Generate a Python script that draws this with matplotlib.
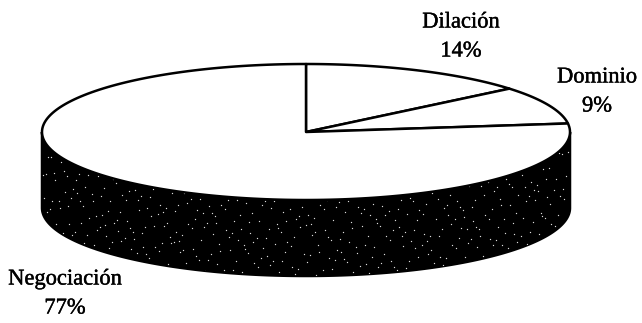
import numpy as np
import matplotlib
matplotlib.use("Agg")
from matplotlib import pyplot as plt
from matplotlib import patheffects
from matplotlib.patches import Polygon

labels = ["Dilación", "Dominio", "Negociación"]
values = [14, 9, 77]

# Pie geometry in pixels
cx, cy = 306, 132
rx, ry = 264, 68
depth = 76

plt.rcParams["font.family"] = ["Liberation Serif", "DejaVu Serif"]

fig = plt.figure(figsize=(6.42, 3.23), dpi=100)
ax = fig.add_axes([0, 0, 1, 1])
ax.set_xlim(0, 642)
ax.set_ylim(323, 0)
ax.axis("off")


def rim(a):
    # a is measured clockwise from the top of the pie, in degrees
    a = np.radians(a)
    return cx + rx * np.sin(a), cy - ry * np.cos(a)


def halton(n, base):
    # radical inverse of n, gives an even but irregular spread in 0..1
    out, f = 0.0, 1.0 / base
    while n > 0:
        out += f * (n % base)
        n //= base
        f /= base
    return out


# Side wall: front half of the rim pushed down by the depth
front = np.linspace(90, 270, 200)
x, y = rim(front)
wall_pts = np.concatenate([np.column_stack([x, y]), np.column_stack([x[::-1], y[::-1] + depth])])
wall = Polygon(wall_pts, closed=True, facecolor="black", edgecolor="black", lw=1.8, zorder=1)
ax.add_patch(wall)

# Fine light grain on the wall
n = np.arange(1, 381)
grain_x = cx - rx + 2 * rx * np.array([halton(i, 2) for i in n])
grain_top = cy + ry * np.sqrt(np.clip(1 - ((grain_x - cx) / rx) ** 2, 0, 1))
grain_y = grain_top + depth * np.array([halton(i, 3) for i in n])
grain = ax.scatter(grain_x, grain_y, s=0.9, c="#dddddd", linewidths=0, zorder=2)
grain.set_clip_path(wall)

# Top face, one wedge per value
shares = np.array(values) / sum(values) * 360
edges = np.concatenate([[0], np.cumsum(shares)])
for start, end in zip(edges[:-1], edges[1:]):
    t = np.linspace(start, end, 200)
    x, y = rim(t)
    pts = np.column_stack([np.r_[cx, x], np.r_[cy, y]])
    ax.add_patch(Polygon(pts, closed=True, facecolor="white", edgecolor="black", lw=1.8, joinstyle="round", zorder=3))

# Labels sit outside their wedges
label_pos = [(461, 23), (597, 78), (65, 280)]
heavier = [patheffects.withStroke(linewidth=0.3, foreground="black")]
for name, v, (lx, ly) in zip(labels, values, label_pos):
    ax.text(lx, ly, name, ha="center", va="center", fontsize=16.2, color="black", zorder=4, path_effects=heavier)
    ax.text(lx, ly + 29, f"{v}%", ha="center", va="center", fontsize=16.2, color="black", zorder=4, path_effects=heavier)

fig.savefig("out.png", dpi=100)
